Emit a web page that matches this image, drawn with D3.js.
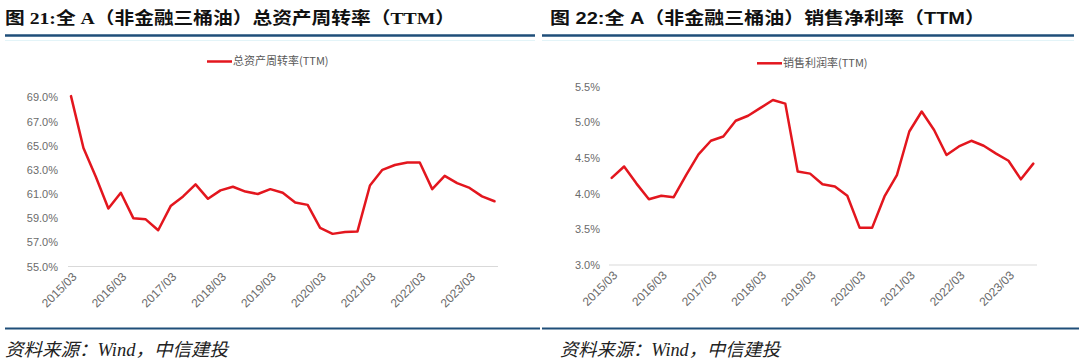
<!DOCTYPE html>
<html>
<head>
<meta charset="utf-8">
<script src="https://cdn.jsdelivr.net/npm/d3@7"></script>
<style>
  html, body { margin: 0; padding: 0; background: #ffffff; }
  svg { display: block; }
</style>
</head>
<body>
<svg id="chart" width="1080" height="363"></svg>
<script>
// ---------------- data ----------------
const quarters = [
  "2015/03","2015/06","2015/09","2015/12",
  "2016/03","2016/06","2016/09","2016/12",
  "2017/03","2017/06","2017/09","2017/12",
  "2018/03","2018/06","2018/09","2018/12",
  "2019/03","2019/06","2019/09","2019/12",
  "2020/03","2020/06","2020/09","2020/12",
  "2021/03","2021/06","2021/09","2021/12",
  "2022/03","2022/06","2022/09","2022/12",
  "2023/03","2023/06","2023/09"
];
// 总资产周转率(TTM), %
const turnoverValues = [
  69.1, 64.8, 62.4, 59.8,
  61.1, 59.0, 58.9, 58.0,
  60.0, 60.8, 61.8, 60.6,
  61.3, 61.6, 61.2, 61.0,
  61.4, 61.1, 60.3, 60.1,
  58.2, 57.7, 57.85, 57.9,
  61.7, 63.0, 63.4, 63.6,
  63.6, 61.4, 62.5, 61.9,
  61.5, 60.8, 60.4
];
// 销售利润率(TTM), %
const marginValues = [
  4.22, 4.38, 4.14, 3.92,
  3.97, 3.95, 4.26, 4.55,
  4.74, 4.80, 5.02, 5.09,
  5.20, 5.31, 5.26, 4.31,
  4.28, 4.13, 4.10, 3.97,
  3.52, 3.52, 3.96, 4.26,
  4.87, 5.15, 4.89, 4.54,
  4.66, 4.74, 4.67, 4.56,
  4.46, 4.20, 4.42
];
const turnoverTicks = [55, 57, 59, 61, 63, 65, 67, 69];
const marginTicks = [3.0, 3.5, 4.0, 4.5, 5.0, 5.5];
const xTickLabels = quarters.filter(q => q.endsWith("/03"));

const titles = ["图 21:全 A（非金融三桶油）总资产周转率（TTM）", "图 22:全 A（非金融三桶油）销售净利率（TTM）"];
const legendNames = ["总资产周转率(TTM)", "销售利润率(TTM)"];
const sourceText = "资料来源：Wind，中信建投";

// ---------------- drawing ----------------
const svg = d3.select("#chart");
const RED = "#e3161e";
const AXIS_TEXT = "#6b6b6b";
const NAVY = "#1f4e79";

const panels = [
  {
    values: turnoverValues, ticks: turnoverTicks, domain: [55, 69],
    xRange: [71, 494.5], yRange: [266.5, 97.3], baseX: [68, 498],
    labelRight: 58, title: titles[0], titleX: 5, titleFont: "'Liberation Serif', 'Noto Sans CJK SC', serif",
    titleLen: 450, legendX: 207, legendY: 61.5, legend: legendNames[0],
    ruleX: [5, 535], srcX: 5, srcLen: 223
  },
  {
    values: marginValues, ticks: marginTicks, domain: [3.0, 5.5],
    xRange: [611.7, 1033.3], yRange: [265, 86.5], baseX: [609, 1037],
    labelRight: 600, title: titles[1], titleX: 550, titleFont: "'Liberation Sans', 'Noto Sans CJK SC', sans-serif",
    titleLen: 435, legendX: 757, legendY: 63.3, legend: legendNames[1],
    ruleX: [542, 1074], srcX: 560, srcLen: 220
  }
];

panels.forEach(p => {
  const g = svg.append("g");

  // title
  g.append("text")
    .attr("x", p.titleX).attr("y", 24)
    .attr("font-family", p.titleFont)
    .attr("font-weight", "bold")
    .attr("font-size", 17)
    .attr("fill", "#111")
    .attr("textLength", p.titleLen)
    .attr("lengthAdjust", "spacingAndGlyphs")
    .text(p.title);

  // title rule
  g.append("line")
    .attr("x1", p.ruleX[0]).attr("x2", p.ruleX[1])
    .attr("y1", 35.5).attr("y2", 35.5)
    .attr("stroke", NAVY).attr("stroke-width", 2.5);
  g.append("line")
    .attr("x1", p.ruleX[0]).attr("x2", p.ruleX[1])
    .attr("y1", 40.5).attr("y2", 40.5)
    .attr("stroke", "#e3f4f8").attr("stroke-width", 1);

  // bottom rule
  g.append("line")
    .attr("x1", p.ruleX[0]).attr("x2", p.ruleX[1] + 5)
    .attr("y1", 328.5).attr("y2", 328.5)
    .attr("stroke", NAVY).attr("stroke-width", 2);

  // source
  g.append("text")
    .attr("x", p.srcX).attr("y", 356)
    .attr("font-family", "'Liberation Serif', 'Noto Sans CJK SC', serif")
    .attr("font-style", "italic")
    .attr("font-size", 18)
    .attr("fill", "#222")
    .attr("textLength", p.srcLen)
    .attr("lengthAdjust", "spacingAndGlyphs")
    .text(sourceText);

  // scales
  const x = d3.scalePoint().domain(quarters).range(p.xRange);
  const y = d3.scaleLinear().domain(p.domain).range(p.yRange);

  // baseline
  g.append("line")
    .attr("x1", p.baseX[0]).attr("x2", p.baseX[1])
    .attr("y1", y(p.domain[0])).attr("y2", y(p.domain[0]))
    .attr("stroke", "#d9d9d9").attr("stroke-width", 1);

  // y axis
  const yAxis = d3.axisLeft(y)
    .tickValues(p.ticks)
    .tickSize(0)
    .tickPadding(0)
    .tickFormat(d => d3.format(".1f")(d) + "%");
  const yg = g.append("g")
    .attr("transform", `translate(${p.labelRight},0)`)
    .call(yAxis);
  yg.select(".domain").remove();
  yg.selectAll("text")
    .attr("font-family", "'Liberation Sans', Arial, sans-serif")
    .attr("font-size", 11)
    .attr("fill", AXIS_TEXT);

  // x axis
  const xAxis = d3.axisBottom(x)
    .tickValues(xTickLabels)
    .tickSize(0)
    .tickPadding(0);
  const xg = g.append("g")
    .attr("transform", `translate(0,${y(p.domain[0])})`)
    .call(xAxis);
  xg.select(".domain").remove();
  xg.selectAll("text")
    .attr("font-family", "'Liberation Sans', Arial, sans-serif")
    .attr("font-size", 12)
    .attr("fill", AXIS_TEXT)
    .attr("text-anchor", "end")
    .attr("dy", null)
    .attr("y", null)
    .attr("transform", "translate(6,11) rotate(-45)");

  // line
  const line = d3.line()
    .x((d, i) => x(quarters[i]))
    .y(d => y(d));
  g.append("path")
    .datum(p.values)
    .attr("d", line)
    .attr("fill", "none")
    .attr("stroke", RED)
    .attr("stroke-width", 2.5)
    .attr("stroke-linejoin", "round")
    .attr("stroke-linecap", "round");

  // legend
  g.append("line")
    .attr("x1", p.legendX).attr("x2", p.legendX + 25)
    .attr("y1", p.legendY).attr("y2", p.legendY)
    .attr("stroke", RED).attr("stroke-width", 2.5);
  g.append("text")
    .attr("x", p.legendX + 26).attr("y", p.legendY)
    .attr("dy", "0.35em")
    .attr("font-family", "'Noto Sans CJK SC', sans-serif")
    .attr("font-size", 11)
    .attr("fill", "#595959")
    .text(p.legend);
});
</script>
</body>
</html>
